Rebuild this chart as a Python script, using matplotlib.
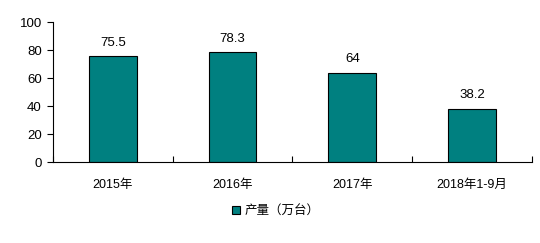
import matplotlib
matplotlib.use("Agg")
import matplotlib.pyplot as plt
from matplotlib.ticker import FixedLocator
import numpy as np

plt.rcParams['font.family'] = ['Liberation Sans', 'Noto Sans CJK SC', 'DejaVu Sans']

categories = ["2015年", "2016年", "2017年", "2018年1-9月"]
values = [75.5, 78.3, 64, 38.2]
value_labels = ["75.5", "78.3", "64", "38.2"]
series_name = "产量（万台）"
bar_color = "#008080"

fig = plt.figure(figsize=(5.4, 2.43), dpi=100)
ax = fig.add_axes([0.098, 0.333, 0.887, 0.576])

x = np.arange(len(categories))
bars = ax.bar(x, values, width=0.4, color=bar_color, edgecolor="black", linewidth=0.8,
              label=series_name)

for xi, v, lab in zip(x, values, value_labels):
    ax.text(xi, v + 5.5, lab, ha="center", va="bottom", fontsize=9.5)

ax.set_xlim(-0.5, len(categories) - 0.5)
ax.set_ylim(0, 100)
ax.set_yticks(range(0, 101, 20))
ax.set_xticks(x)
ax.set_xticklabels(categories, fontsize=9)
ax.tick_params(axis="x", which="major", length=0, pad=12)
ax.xaxis.set_minor_locator(FixedLocator(np.arange(-0.5, len(categories), 1.0)))
ax.tick_params(axis="x", which="minor", direction="in", length=4, width=0.8)
ax.tick_params(axis="y", direction="out", length=4, width=0.8, labelsize=9.5, pad=4)

ax.spines["top"].set_visible(False)
ax.spines["right"].set_visible(False)
ax.spines["left"].set_linewidth(0.8)
ax.spines["bottom"].set_linewidth(0.8)

fig.legend(loc="center", bbox_to_anchor=(0.51, 0.13), frameon=False, fontsize=9,
           handlelength=0.7, handleheight=0.7, handletextpad=0.3)

fig.savefig("out.png", dpi=100)
